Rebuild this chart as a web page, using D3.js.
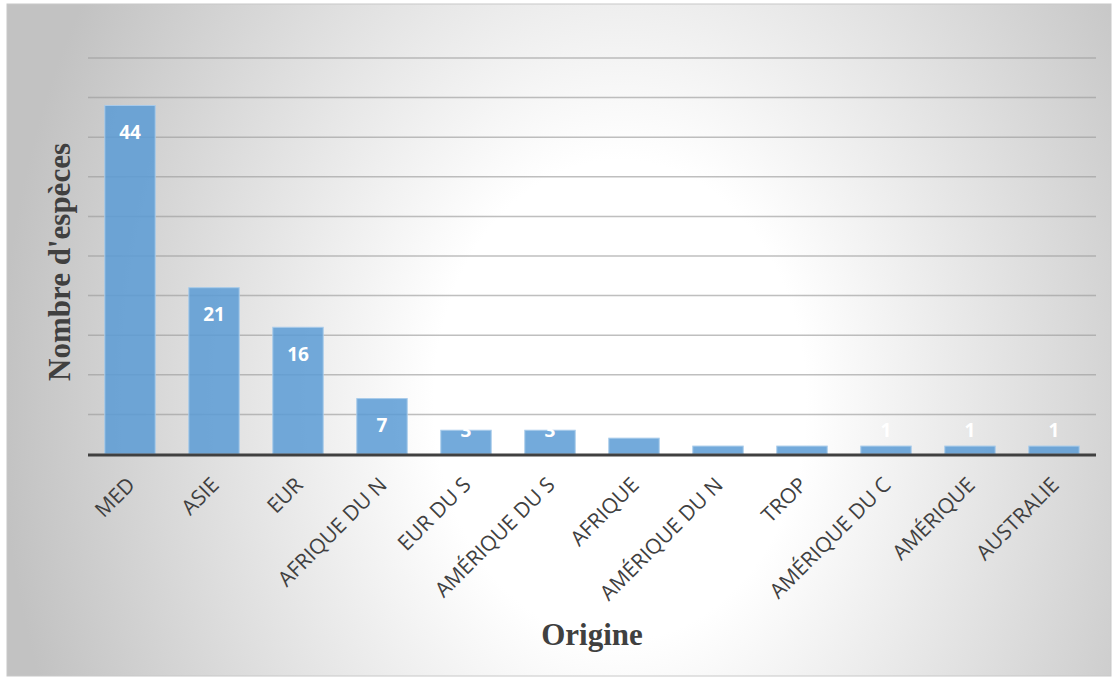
<!DOCTYPE html>
<html>
<head>
  <title>Origine des espèces</title>
  <script src="https://d3js.org/d3.v7.min.js"></script>
  <style>
    html, body {
      margin: 0;
      padding: 0;
      background: #fff;
      overflow: hidden;
    }
    .tick-label {
      font-family: 'Open Sans', sans-serif;
      font-size: 21px;
      fill: #404040;
    }
    .value-label {
      font-family: 'Open Sans', sans-serif;
      font-size: 19px;
      font-weight: bold;
      fill: #fff;
    }
    .axis-title {
      font-family: 'Liberation Serif', 'Times New Roman', serif;
      font-weight: bold;
      fill: #404040;
    }
  </style>
</head>
<body>
  <svg></svg>
  <script>
    // data
    var categories = ["MED", "ASIE", "EUR", "AFRIQUE DU N", "EUR DU S", "AMÉRIQUE DU S",
                      "AFRIQUE", "AMÉRIQUE DU N", "TROP", "AMÉRIQUE DU C", "AMÉRIQUE", "AUSTRALIE"];
    var counts = [44, 21, 16, 7, 3, 3, 2, 1, 1, 1, 1, 1];
    var yTicks = [0, 5, 10, 15, 20, 25, 30, 35, 40, 45, 50];

    var width = 1118, height = 679;
    var plotLeft = 88, plotRight = 1096, plotTop = 58, plotBottom = 454;

    var svg = d3.select("svg").attr("width", width).attr("height", height);

    // soft elliptical background, white in the middle, gray at the sides
    var defs = svg.append("defs");
    var grad = defs.append("radialGradient")
        .attr("id", "bg")
        .attr("gradientUnits", "userSpaceOnUse")
        .attr("cx", 620).attr("cy", 400)
        .attr("r", 620)
        .attr("gradientTransform", "translate(620,400) scale(1,1.29) translate(-620,-400)");
    grad.append("stop").attr("offset", "0").attr("stop-color", "#ffffff");
    grad.append("stop").attr("offset", "0.3").attr("stop-color", "#ffffff");
    grad.append("stop").attr("offset", "1").attr("stop-color", "#c2c2c2");

    svg.append("rect")
        .attr("x", 7).attr("y", 4)
        .attr("width", 1104).attr("height", 672)
        .attr("fill", "url(#bg)")
        .attr("stroke", "#c8c8c8")
        .attr("stroke-width", 1);

    var x = d3.scaleBand()
        .domain(categories)
        .range([plotLeft, plotRight])
        .paddingInner(0.4)
        .paddingOuter(0.2);

    var y = d3.scaleLinear()
        .domain([0, 50])
        .range([plotBottom, plotTop]);

    // gridlines
    svg.append("g")
        .selectAll("line")
        .data(yTicks.filter(d => d > 0))
        .join("line")
        .attr("x1", plotLeft)
        .attr("x2", plotRight)
        .attr("y1", d => y(d))
        .attr("y2", d => y(d))
        .attr("stroke", "#9c9c9c")
        .attr("stroke-opacity", 0.65)
        .attr("stroke-width", 1.5);

    // bars
    svg.append("g")
        .selectAll("rect")
        .data(counts)
        .join("rect")
        .attr("x", (d, i) => x(categories[i]))
        .attr("y", d => y(d))
        .attr("width", x.bandwidth())
        .attr("height", d => plotBottom - y(d))
        .attr("fill", "#5b9bd5")
        .attr("fill-opacity", 0.85)
        .attr("stroke", "#a8cbea")
        .attr("stroke-width", 1);

    // x axis line
    svg.append("line")
        .attr("x1", plotLeft).attr("x2", plotRight)
        .attr("y1", plotBottom + 1).attr("y2", plotBottom + 1)
        .attr("stroke", "#404040")
        .attr("stroke-width", 3);

    // value labels, inside end of bar
    svg.append("g")
        .selectAll("text")
        .data(counts)
        .join("text")
        .attr("class", "value-label")
        .attr("x", (d, i) => x(categories[i]) + x.bandwidth() / 2)
        .attr("y", d => Math.min(y(d) + 27, plotBottom - 24))
        .attr("dy", "0.35em")
        .attr("text-anchor", "middle")
        .text(d => d);

    // category labels rotated
    svg.append("g")
        .selectAll("text")
        .data(categories)
        .join("text")
        .attr("class", "tick-label")
        .attr("text-anchor", "end")
        .attr("transform", d => "translate(" + (x(d) + x.bandwidth() / 2 + 1) + "," + (plotBottom + 27) + ") rotate(-45)")
        .attr("dy", "0.35em")
        .text(d => d);

    // axis titles
    svg.append("text")
        .attr("class", "axis-title")
        .attr("font-size", 31)
        .attr("text-anchor", "middle")
        .attr("transform", "translate(70,262) rotate(-90)")
        .text("Nombre d'espèces");

    svg.append("text")
        .attr("class", "axis-title")
        .attr("font-size", 31)
        .attr("text-anchor", "middle")
        .attr("x", 592)
        .attr("y", 645)
        .text("Origine");
  </script>
</body>
</html>
